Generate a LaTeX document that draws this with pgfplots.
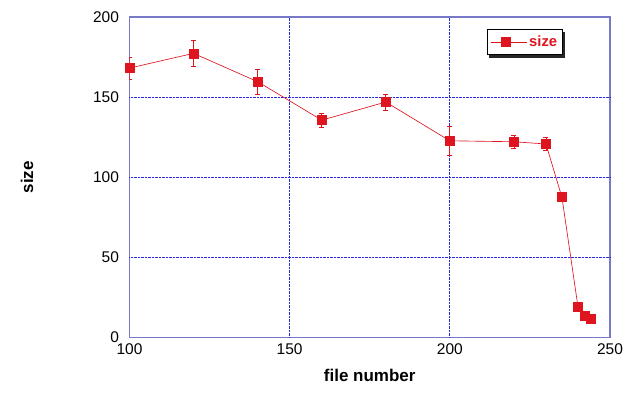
\documentclass[border=0pt]{standalone}
\usepackage{pgfplots}
\pgfplotsset{compat=1.18}
\usetikzlibrary{calc}
\usepackage{fontspec}
\setmainfont{Liberation Sans}
\definecolor{framec}{RGB}{120,120,200}
\definecolor{gridc}{RGB}{40,40,225}
\definecolor{red1}{RGB}{222,20,30}
\pgfdeclarelayer{bg}
\pgfsetlayers{bg,main}
\begin{document}
\begin{tikzpicture}
\begin{axis}[
  scale only axis,
  width=480.5pt, height=320.3pt,
  xmin=100, xmax=250, ymin=0, ymax=200,
  xtick={100,150,200,250}, ytick={0,50,100,150,200},
  extra x ticks={150,200}, extra y ticks={50,100,150},
  extra x tick labels={}, extra y tick labels={},
  extra tick style={grid=major},
  /pgf/number format/assume math mode=true,
  ticklabel style={font=\fontsize{15.5}{17}\selectfont},
  xticklabel style={yshift=-3pt},
  yticklabel style={xshift=-7pt},
  major tick length=0pt,
  axis line style={framec, line width=1.1pt},
  major grid style={gridc, densely dotted, line width=0.8pt},
  xlabel={\textbf{file number}},
  ylabel={\textbf{size}},
  label style={font=\fontsize{17}{19}\selectfont},
  xlabel style={at={(axis description cs:0.5,-0.1177)}, anchor=center},
  ylabel style={at={(axis description cs:-0.2133,0.5)}, anchor=center},
  legend style={at={(rel axis cs:0.744,0.9625)}, anchor=north west,
    name=legnode,
    draw=black, line width=0.9pt, fill=white,
    font=\fontsize{14.8}{16}\selectfont\bfseries\color{red1},
    inner xsep=3pt, inner ysep=4.5pt},
  legend image code/.code={
    \path (0pt,0pt) -- (36pt,0pt);
    \draw[red1, line width=0.8pt] (0pt,0pt) -- (23pt,0pt);
    \fill[red1] (14.5pt,0pt) +(-4.5pt,-4.5pt) rectangle +(4.5pt,4.5pt);
  },
]
\addplot[red1, line width=0.65pt, mark=square*, mark size=4.5pt,
  mark options={fill=red1, draw=red1},
  error bars/.cd, y dir=both, y explicit,
  error bar style={red1, line width=0.8pt},
  error mark options={rotate=90, red1, mark size=2.5pt, line width=0.6pt}]
table[x=x, y=y, y error=e] {
x y e
100 168.1 7
120 177.3 8
140 159.6 8
160 135.6 4.5
180 146.9 5
200 122.7 9
220 122.1 4
230 120.7 4
235 87.4 0
240 19.1 0
242 13.3 0
244 11.8 0
};
\addlegendentry{size}
\coordinate (sw) at (rel axis cs:0,0);
\coordinate (ne) at (rel axis cs:1,1);
\end{axis}
\begin{pgfonlayer}{bg}
\fill[black!85] ($(legnode.south west)+(2.5pt,-2.5pt)$) rectangle ($(legnode.north east)+(2.5pt,-2.5pt)$);
\end{pgfonlayer}
\path[use as bounding box] ($(sw)+(-129.5pt,-55pt)$) rectangle ($(ne)+(30pt,17pt)$);
\end{tikzpicture}
\end{document}
